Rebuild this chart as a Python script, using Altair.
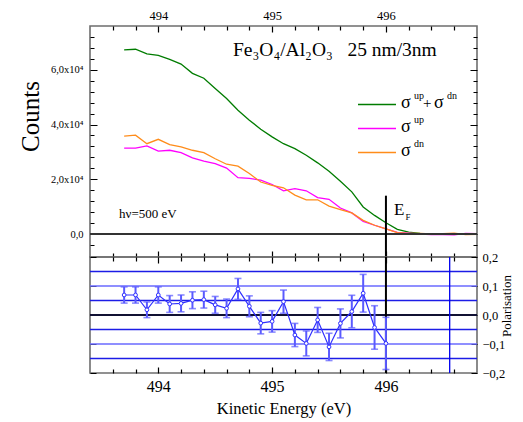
import altair as alt
import pandas as pd

# ---------------- data ----------------
energy = [493.7, 493.8, 493.9, 494.0, 494.1, 494.2, 494.3, 494.4, 494.5, 494.6,
          494.7, 494.8, 494.9, 495.0, 495.1, 495.2, 495.3, 495.4, 495.5, 495.6,
          495.7, 495.8, 495.9, 496.0, 496.1, 496.2, 496.3, 496.4, 496.5, 496.6,
          496.7, 496.8]
total = [67300, 67500, 65800, 65300, 63800, 62100, 58700, 56900, 53200, 49500,
         45200, 41600, 38300, 35500, 33000, 31200, 28800, 26000, 22900, 19300,
         15400, 9900, 6800, 4100, 1700, 700, 200, 0, 100, 0, 0, 0]
sig_up = [31400, 31400, 32200, 30300, 30600, 29700, 27800, 26600, 25700, 24100,
          20600, 20300, 19700, 18100, 15800, 16600, 15800, 13300, 12700, 9500,
          7700, 4600, 3200, 1900, 600, 300, 0, -200, -200, -300, 200, 100]
sig_dn = [35800, 36100, 33000, 34600, 32700, 31800, 30600, 29700, 27500, 25500,
          24800, 22100, 19000, 17800, 16900, 14200, 12500, 12500, 10200, 8900,
          7700, 5000, 3200, 1900, 500, 200, 200, 0, 100, 300, -200, -100]

pol_energy = [493.7, 493.8, 493.9, 494.0, 494.1, 494.2, 494.3, 494.4, 494.5, 494.6,
              494.7, 494.8, 494.9, 495.0, 495.1, 495.2, 495.3, 495.4, 495.5, 495.6,
              495.7, 495.8, 495.9, 496.0]
pol = [0.069, 0.069, 0.018, 0.069, 0.038, 0.040, 0.051, 0.053, 0.035, 0.023,
       0.090, 0.030, -0.028, -0.022, 0.046, -0.069, -0.098, -0.017, -0.110, -0.029,
       0.012, 0.075, -0.043, -0.098]
pol_err = [0.028, 0.028, 0.027, 0.028, 0.029, 0.029, 0.029, 0.029, 0.029, 0.032,
           0.036, 0.036, 0.037, 0.037, 0.040, 0.040, 0.043, 0.043, 0.047, 0.050,
           0.056, 0.065, 0.075, 0.090]

series_names = ["total", "up", "dn"]
series_colors = ["#007c00", "#ff00ff", "#ff8c1a"]

fermi_energy = [496.0]
fermi_top_counts = [14000]
stray_energy = [496.56]
grid_strong = [0.15, 0.05, -0.05, -0.15]
grid_light = [0.1, -0.1]
zero_level = [0.0]

# tick positions (labels only on the round values)
x_ticks = [493.6, 493.8, 494, 494.2, 494.4, 494.6, 494.8, 495, 495.2, 495.4,
           495.6, 495.8, 496, 496.2, 496.4, 496.6]
y_ticks = [-4000, 0, 4000, 8000, 12000, 16000, 20000, 24000, 28000, 32000, 36000,
           40000, 44000, 48000, 52000, 56000, 60000, 64000, 68000, 72000]
p_ticks = [-0.2, -0.1, 0.0, 0.1, 0.2]

# ---------------- geometry ----------------
W, H1, H2 = 387, 231, 116
SERIF = "Liberation Serif"
xs = alt.Scale(domain=[493.4, 496.8], nice=False, zero=False)
ys_top = alt.Scale(domain=[-8400, 76000], nice=False, zero=False)
ys_bot = alt.Scale(domain=[-0.2, 0.2], nice=False, zero=False)


def edge_dash(total_len, n):
    # dash pattern that draws only n px at both ends of a grid line
    return [n, total_len - 2 * n, n, 2000]


# ---------------- tables ----------------
df_lines = pd.DataFrame({
    "e": energy * 3,
    "v": total + sig_up + sig_dn,
    "s": [series_names[0]] * len(energy) + [series_names[1]] * len(energy)
         + [series_names[2]] * len(energy),
})
df_pol = pd.DataFrame({"e": pol_energy, "p": pol,
                       "lo": [a - b for a, b in zip(pol, pol_err)],
                       "hi": [a + b for a, b in zip(pol, pol_err)]})
df_fermi = pd.DataFrame({"e": fermi_energy, "top": fermi_top_counts})
df_stray = pd.DataFrame({"e": stray_energy})
df_gs = pd.DataFrame({"p": grid_strong})
df_gl = pd.DataFrame({"p": grid_light})
df_zero = pd.DataFrame({"p": zero_level})

X_MAJOR_TEST = "abs(datum.value - round(datum.value)) < 0.001"

top_x_axis = alt.Axis(
    orient="top", values=x_ticks, ticks=False, domain=False,
    labelExpr=f"{X_MAJOR_TEST} ? format(datum.value, 'd') : ''",
    labelFont=SERIF, labelFontSize=12.5, labelPadding=4, labelColor="#000",
    title=None, grid=True, gridColor="#000", gridOpacity=1, gridWidth=1.2,
    gridDash={"condition": {"test": X_MAJOR_TEST, "value": edge_dash(H1, 6)},
              "value": edge_dash(H1, 4)})
left_y_axis = alt.Axis(
    orient="left", values=y_ticks, ticks=False, domain=False,
    labelFont=SERIF, labelFontSize=10.5, labelPadding=7, labelColor="#000",
    labelExpr="datum.value % 20000 != 0 ? '' : (datum.value == 0 ? '0,0' : replace(format(datum.value/10000, '.1f'), '.', ',') + 'x10⁴')",
    title="Counts", titleFont=SERIF, titleFontSize=25,
    titleFontWeight="normal", titleColor="#000", titlePadding=7, titleY=90,
    grid=True, gridColor="#000", gridOpacity=1, gridWidth=1.2,
    gridDash={"condition": {"test": "datum.value % 20000 == 0", "value": edge_dash(W, 7)},
              "value": edge_dash(W, 4)})
bot_x_axis = alt.Axis(
    orient="bottom", values=x_ticks, ticks=False, domain=False,
    labelExpr=f"{X_MAJOR_TEST} ? format(datum.value, 'd') : ''",
    labelFont=SERIF, labelFontSize=16, labelPadding=5, labelColor="#000",
    title="Kinetic Energy (eV)", titleFont=SERIF, titleFontSize=16.5,
    titleFontWeight="normal", titleColor="#000", titlePadding=6,
    grid=True, gridColor="#000", gridOpacity=1, gridWidth=1.2,
    gridDash={"condition": {"test": X_MAJOR_TEST, "value": edge_dash(H2, 6)},
              "value": edge_dash(H2, 4)})
right_y_axis = alt.Axis(
    orient="right", values=p_ticks, ticks=False, domain=False,
    labelFont=SERIF, labelFontSize=12.5, labelPadding=5, labelColor="#000",
    labelExpr="replace(format(datum.value, '.1f'), '.', ',')",
    title=None, grid=True, gridColor="#000", gridOpacity=1, gridWidth=1.2,
    gridDash=edge_dash(W, 6))


def X(field, axis):
    return alt.X(f"{field}:Q", scale=xs, axis=axis)


def txt(s, x, y, size, angle=0, baseline="alphabetic", align="left"):
    return alt.Chart().mark_text(font=SERIF, fontSize=size, align=align,
                                 baseline=baseline, angle=angle,
                                 color="#000").encode(
        x=alt.value(x), y=alt.value(y), text=alt.value(s))


def legend_line(color, y):
    return alt.Chart().mark_rule(color=color, strokeWidth=1.6).encode(
        x=alt.value(268), x2=alt.value(306), y=alt.value(y))


# ---------------- top panel ----------------
lines = alt.Chart(df_lines).mark_line(strokeWidth=1.3, clip=True).encode(
    x=X("e", top_x_axis),
    y=alt.Y("v:Q", scale=ys_top, axis=left_y_axis),
    color=alt.Color("s:N", scale=alt.Scale(domain=series_names, range=series_colors),
                    legend=None),
    order=alt.Order("e:Q"),
)
zero_top = alt.Chart(df_zero).mark_rule(color="#333333", strokeWidth=2).encode(
    y=alt.Y("p:Q", scale=ys_top, axis=left_y_axis))
fermi_top = alt.Chart(df_fermi).mark_rule(color="#000000", strokeWidth=2).encode(
    x=X("e", top_x_axis),
    y=alt.Y("top:Q", scale=ys_top, axis=left_y_axis),
    y2=alt.value(H1),
)

annotations = [
    txt("Fe₃O₄/Al₂O₃\u00a0\u00a0 25 nm/3nm", 143, 30, 19.5),
    txt("hν=500 eV", 29, 192, 13),
    txt("E", 304, 189, 17),
    txt("F", 315.5, 194, 9),
    legend_line(series_colors[0], 78.5),
    legend_line(series_colors[1], 102.5),
    legend_line(series_colors[2], 126.5),
    txt("σ", 311, 82, 18), txt("up", 324, 72.5, 10), txt("+", 333, 82, 15),
    txt("σ", 344, 82, 18), txt("dn", 357, 72.5, 10),
    txt("σ", 311, 106, 18), txt("up", 324, 97, 10),
    txt("σ", 311, 130, 18), txt("dn", 324, 121, 10),
]

top = alt.layer(lines, zero_top, fermi_top, *annotations).properties(
    width=W, height=H1)

# ---------------- bottom panel ----------------
def YB(field):
    return alt.Y(f"{field}:Q", scale=ys_bot, axis=right_y_axis)


g_strong = alt.Chart(df_gs).mark_rule(color="#1c1ce6", strokeWidth=1.3).encode(y=YB("p"))
g_light = alt.Chart(df_gl).mark_rule(color="#6a6aff", strokeWidth=1.6).encode(y=YB("p"))
g_zero = alt.Chart(df_zero).mark_rule(color="#111133", strokeWidth=2).encode(y=YB("p"))
stray = alt.Chart(df_stray).mark_rule(color="#0000ee", strokeWidth=1.3).encode(
    x=X("e", bot_x_axis))
fermi_bot = alt.Chart(df_fermi).mark_rule(color="#000000", strokeWidth=2).encode(
    x=X("e", bot_x_axis))

err = alt.Chart(df_pol).mark_rule(color="#5a5aff", strokeWidth=2, clip=True).encode(
    x=X("e", bot_x_axis), y=YB("lo"), y2="hi:Q")
cap_lo = alt.Chart(df_pol).mark_tick(color="#5a5aff", orient="horizontal", size=7,
                                     thickness=1.6, clip=True).encode(
    x=X("e", bot_x_axis), y=YB("lo"))
cap_hi = alt.Chart(df_pol).mark_tick(color="#5a5aff", orient="horizontal", size=7,
                                     thickness=1.6, clip=True).encode(
    x=X("e", bot_x_axis), y=YB("hi"))
pol_line = alt.Chart(df_pol).mark_line(color="#2f2fff", strokeWidth=1.2).encode(
    x=X("e", bot_x_axis), y=YB("p"))
pol_pts = alt.Chart(df_pol).mark_point(shape="circle", size=14, filled=False,
                                       color="#2f2fff", fill="white", fillOpacity=1,
                                       strokeWidth=1).encode(
    x=X("e", bot_x_axis), y=YB("p"))

pol_title = txt("Polarisation", W + 24, 49, 13, angle=270, baseline="top",
                align="center")

bottom = alt.layer(g_strong, g_light, g_zero, stray, fermi_bot, err,
                   cap_lo, cap_hi, pol_line, pol_pts, pol_title).properties(
    width=W, height=H2)

chart = alt.vconcat(top, bottom, spacing=0, bounds="flush").properties(
    padding={"left": 9, "top": 0, "right": 0, "bottom": 0},
    background="white",
).configure_view(stroke="#6e6e6e", strokeWidth=1.6).configure_axis(
    labelFont=SERIF, titleFont=SERIF)

chart.save("out.html", embed_options={"renderer": "svg", "actions": False})
